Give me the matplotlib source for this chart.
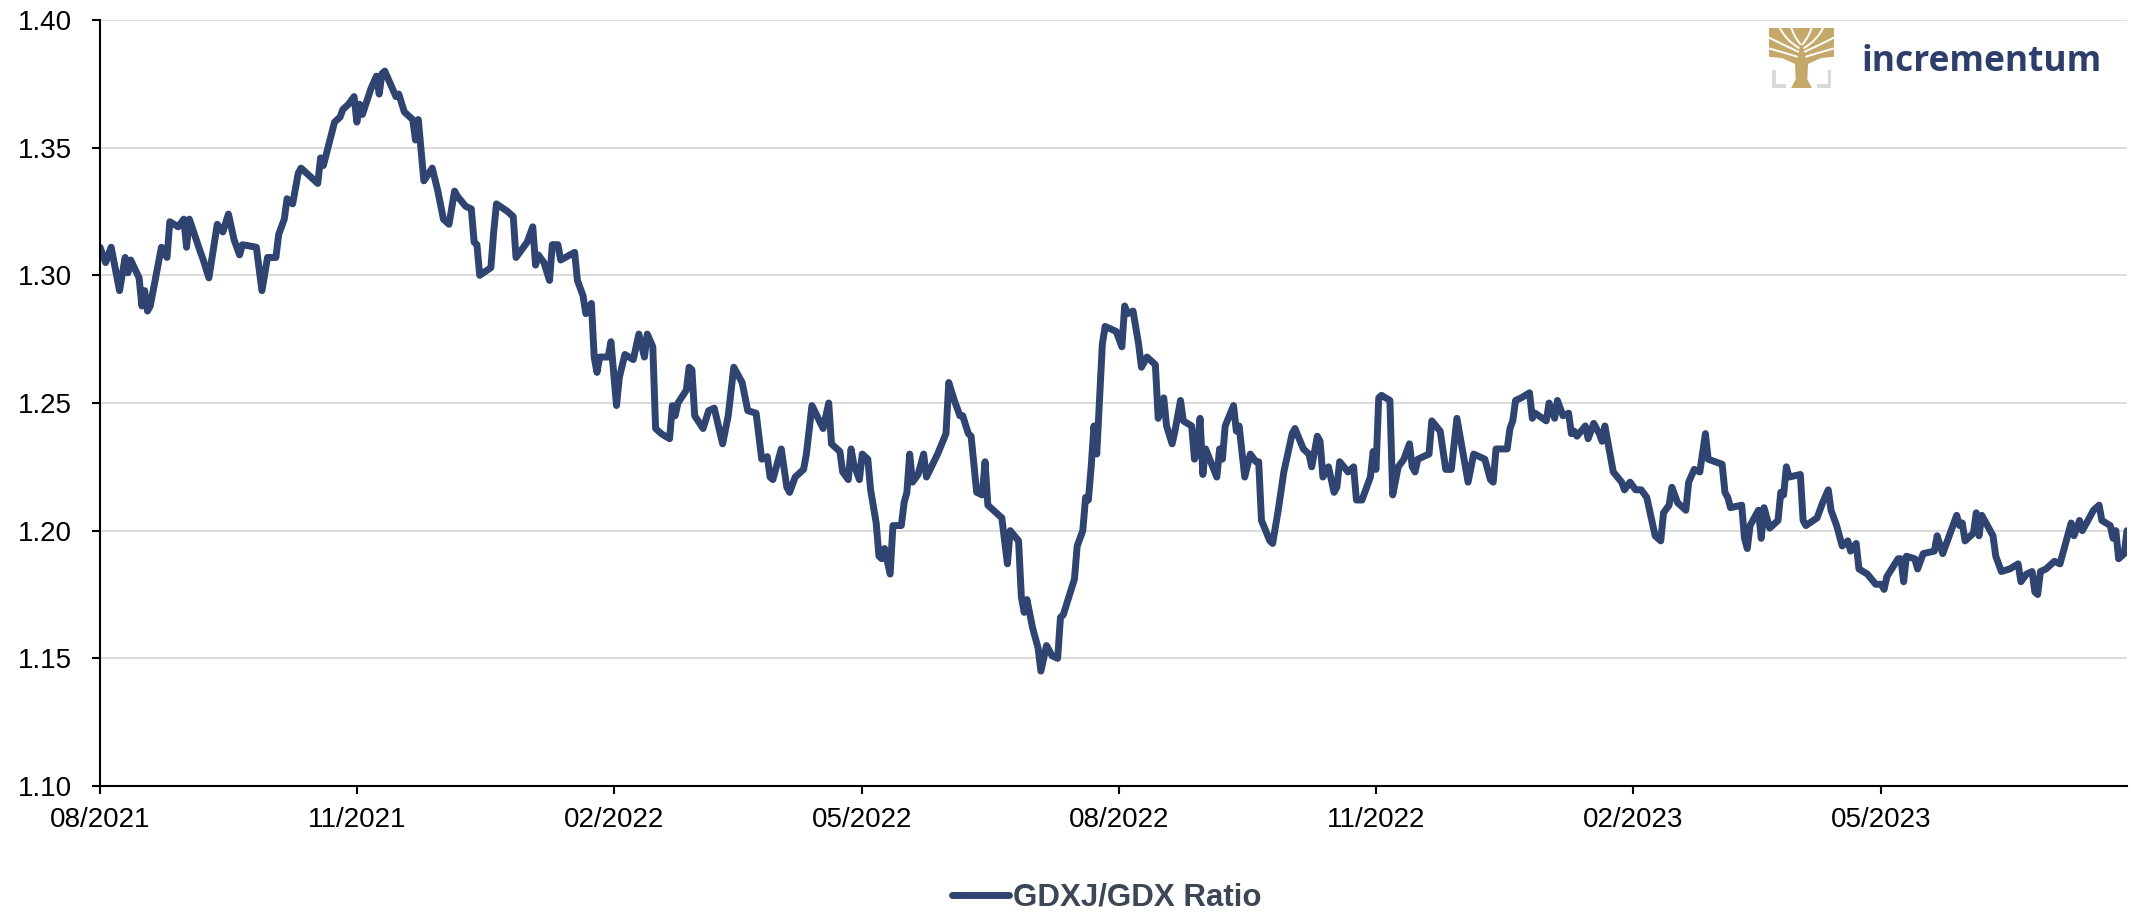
import pandas as pd
import numpy as np
import matplotlib
matplotlib.use("Agg")
import matplotlib.pyplot as plt
import matplotlib.dates as mdates
from matplotlib.path import Path
from matplotlib.patches import PathPatch, Polygon, Rectangle

plt.rcParams['font.family'] = ['Liberation Sans', 'DejaVu Sans']

# GDXJ/GDX ratio (days counted from 2021-08-01)
start_date = pd.Timestamp("2021-08-01")
day_offset = [
    0, 2, 4, 7, 9, 10, 11, 14, 15, 16, 17, 18, 22, 24, 25, 28, 30, 31, 32, 36,
    37, 39, 42, 44, 46, 48, 50, 51, 56, 58, 60, 63, 64, 66, 67, 69, 71, 72, 74, 78,
    79, 80, 84, 86, 87, 89, 91, 92, 93, 94, 97, 99, 100, 101, 102, 106, 107, 109, 112, 113,
    114, 116, 119, 121, 123, 125, 127, 128,
    131, 133, 134, 135, 136, 140, 141, 142, 146, 148, 149, 153, 155, 156, 157, 159, 161, 162, 164, 165,
    170, 171, 173, 174, 176, 177, 178, 179, 182, 183, 185, 186, 188, 191, 193, 195, 196, 198, 199, 201,
    204, 205, 206, 207, 210, 211, 212, 213, 216, 218, 220, 223, 225, 227, 228, 230, 232, 235, 237, 239,
    240, 241, 244, 246, 247, 249, 252, 253, 255, 259, 261, 262, 265,
    266, 268, 269, 270, 272, 273, 275, 276, 278, 279, 280, 281, 283, 284, 287, 288, 289, 290, 291, 293,
    295, 296, 300, 303, 304, 306, 308, 309, 311, 312, 314, 316, 317, 318, 320, 323, 325, 326, 329, 330,
    331, 332, 334, 336, 337, 339, 341, 343, 344, 345, 347, 349, 350, 352, 353, 354, 355, 356, 357, 359,
    360, 364, 366, 367, 368, 370, 372, 373, 375, 378, 379, 381, 382, 384, 385, 387, 388, 391, 392, 393,
    394, 395, 396,
    400, 401, 402, 403, 406, 407, 408, 410, 412, 414, 415, 416, 419, 420, 422, 424, 427, 428, 431, 433,
    434, 436, 437, 438, 440, 442, 443, 444, 447, 449, 450, 452, 455, 456, 457, 458, 459, 462, 463, 465,
    467, 469, 470, 471, 472, 476, 477, 480, 482, 484, 486, 490, 492, 496, 498, 499, 500, 504, 505, 506,
    507, 509, 512, 513, 514, 518, 519, 521, 522, 524, 526, 527, 528, 529, 532, 533, 535,
    537, 538, 539, 542, 545, 546, 548, 550, 552, 554, 556, 557, 559, 560, 562, 563, 565, 568, 569, 571,
    573, 575, 576, 581, 582, 583, 584, 588, 589, 590, 591, 594, 595, 596, 598, 601, 602, 603, 604, 605,
    609, 610, 611, 615, 617, 619, 620, 622, 624, 626, 627, 629, 630, 633, 636, 638,
    639, 640, 644, 645, 646, 647, 650, 651, 653, 657, 658, 660, 665, 666, 667, 668, 671, 672, 673, 674,
    676, 678, 679, 681, 684, 687, 688, 690, 692, 693, 694, 695, 697, 700, 702, 704, 706, 707, 709, 710,
    714, 716, 717, 720, 721, 722, 723, 725, 726,
]
ratio = [
    1.311, 1.305, 1.311, 1.294, 1.307, 1.301, 1.306, 1.299, 1.288, 1.294, 1.286, 1.288, 1.311, 1.307, 1.321, 1.319, 1.322, 1.311, 1.322, 1.309,
    1.306, 1.299, 1.320, 1.317, 1.324, 1.314, 1.308, 1.312, 1.311, 1.294, 1.307, 1.307, 1.316, 1.322, 1.330, 1.328, 1.340, 1.342, 1.340, 1.336,
    1.346, 1.343, 1.360, 1.362, 1.365, 1.367, 1.370, 1.360, 1.367, 1.363, 1.373, 1.378, 1.371, 1.379, 1.380, 1.370, 1.371, 1.364, 1.361, 1.353,
    1.361, 1.337, 1.342, 1.333, 1.322, 1.320, 1.333, 1.331,
    1.327, 1.326, 1.313, 1.312, 1.300, 1.303, 1.317, 1.328, 1.325, 1.323, 1.307, 1.313, 1.319, 1.304, 1.308, 1.305, 1.298, 1.312, 1.312, 1.306,
    1.309, 1.298, 1.292, 1.285, 1.289, 1.268, 1.262, 1.268, 1.268, 1.274, 1.249, 1.260, 1.269, 1.267, 1.277, 1.268, 1.277, 1.272, 1.240, 1.238,
    1.236, 1.249, 1.245, 1.250, 1.255, 1.264, 1.263, 1.245, 1.240, 1.247, 1.248, 1.234, 1.245, 1.264, 1.262, 1.258, 1.247, 1.246, 1.228, 1.229,
    1.221, 1.220, 1.232, 1.217, 1.215, 1.221, 1.224, 1.230, 1.249, 1.240, 1.250, 1.234, 1.231,
    1.223, 1.220, 1.232, 1.226, 1.220, 1.230, 1.228, 1.216, 1.203, 1.190, 1.189, 1.193, 1.183, 1.202, 1.202, 1.211, 1.215, 1.230, 1.219, 1.222,
    1.230, 1.221, 1.230, 1.238, 1.258, 1.251, 1.245, 1.245, 1.238, 1.237, 1.215, 1.214, 1.227, 1.210, 1.208, 1.205, 1.187, 1.200, 1.196, 1.174,
    1.168, 1.173, 1.162, 1.154, 1.145, 1.155, 1.151, 1.150, 1.166, 1.167, 1.174, 1.181, 1.194, 1.200, 1.213, 1.212, 1.225, 1.241, 1.230, 1.273,
    1.280, 1.278, 1.272, 1.288, 1.285, 1.286, 1.273, 1.264, 1.268, 1.265, 1.244, 1.252, 1.241, 1.234, 1.239, 1.251, 1.243, 1.241, 1.228, 1.231,
    1.244, 1.222, 1.232,
    1.221, 1.232, 1.228, 1.241, 1.249, 1.239, 1.241, 1.221, 1.230, 1.227, 1.227, 1.204, 1.196, 1.195, 1.208, 1.223, 1.238, 1.240, 1.232, 1.230,
    1.225, 1.237, 1.235, 1.221, 1.225, 1.215, 1.217, 1.227, 1.223, 1.225, 1.212, 1.212, 1.221, 1.231, 1.224, 1.252, 1.253, 1.251, 1.214, 1.225,
    1.228, 1.234, 1.225, 1.223, 1.228, 1.230, 1.243, 1.239, 1.224, 1.224, 1.244, 1.219, 1.230, 1.228, 1.220, 1.219, 1.232, 1.232, 1.240, 1.243,
    1.251, 1.252, 1.254, 1.244, 1.246, 1.243, 1.250, 1.244, 1.251, 1.245, 1.246, 1.238, 1.239, 1.237, 1.241, 1.236, 1.242,
    1.238, 1.235, 1.241, 1.223, 1.219, 1.216, 1.219, 1.216, 1.216, 1.213, 1.203, 1.198, 1.196, 1.207, 1.210, 1.217, 1.211, 1.208, 1.219, 1.224,
    1.223, 1.238, 1.228, 1.226, 1.215, 1.213, 1.209, 1.210, 1.197, 1.193, 1.202, 1.208, 1.197, 1.209, 1.201, 1.204, 1.215, 1.214, 1.225, 1.221,
    1.222, 1.204, 1.202, 1.205, 1.211, 1.216, 1.208, 1.202, 1.194, 1.196, 1.192, 1.195, 1.185, 1.183, 1.179, 1.179,
    1.177, 1.182, 1.189, 1.189, 1.180, 1.190, 1.189, 1.185, 1.191, 1.192, 1.198, 1.191, 1.206, 1.202, 1.203, 1.196, 1.199, 1.207, 1.198, 1.206,
    1.202, 1.198, 1.190, 1.184, 1.185, 1.187, 1.180, 1.183, 1.184, 1.176, 1.175, 1.184, 1.185, 1.188, 1.187, 1.195, 1.203, 1.198, 1.204, 1.200,
    1.208, 1.210, 1.204, 1.202, 1.197, 1.200, 1.189, 1.191, 1.200,
]
y_ticks = [1.10, 1.15, 1.20, 1.25, 1.30, 1.35, 1.40]
series_label = "GDXJ/GDX Ratio"

dates = start_date + pd.to_timedelta(day_offset, unit="D")

W, H = 2131, 916
fig = plt.figure(figsize=(W / 100, H / 100), dpi=100)
ax = fig.add_axes([100 / W, 1 - 786 / H, 2027 / W, 766 / H])

ax.plot(dates, ratio, color="#2F4470", lw=5.0, solid_joinstyle="round",
        solid_capstyle="round", label=series_label)

ax.set_ylim(1.10, 1.40)
ax.set_yticks(y_ticks)
ax.yaxis.set_major_formatter(matplotlib.ticker.FormatStrFormatter("%.2f"))
ax.set_xlim(start_date, dates[-1])
ax.xaxis.set_major_locator(mdates.MonthLocator(bymonth=[2, 5, 8, 11]))
ax.xaxis.set_major_formatter(mdates.DateFormatter("%m/%Y"))

ax.yaxis.grid(True, color="#d9d9d9", lw=1.3)
ax.set_axisbelow(True)
for side in ["top", "right"]:
    ax.spines[side].set_visible(False)
for side in ["left", "bottom"]:
    ax.spines[side].set_linewidth(1.5)
    ax.spines[side].set_color("black")
ax.tick_params(axis="both", direction="out", length=6, width=1.5, labelsize=20)
ax.tick_params(axis="y", pad=14)
ax.tick_params(axis="x", pad=9)

fig.legend(loc="center", bbox_to_anchor=(1107 / W, 1 - 898 / H), frameon=False,
           prop={"weight": "bold", "size": 22.5}, handlelength=1.8,
           handletextpad=0.15, labelcolor="#3b4656")

# incrementum logo: gold tree over grey corner brackets
gold = "#C5A96A"
logo = fig.add_axes([1769 / W, 1 - 88 / H, 65 / W, 60 / H])
logo.set_xlim(0, 1)
logo.set_ylim(0, 1)
logo.axis("off")
grey = "#d9d9d9"
logo.add_patch(Rectangle((0.04, 0.0), 0.06, 0.30, color=grey, lw=0))
logo.add_patch(Rectangle((0.04, 0.0), 0.22, 0.07, color=grey, lw=0))
logo.add_patch(Rectangle((0.90, 0.0), 0.06, 0.30, color=grey, lw=0))
logo.add_patch(Rectangle((0.74, 0.0), 0.22, 0.07, color=grey, lw=0))
crown = [(0.0, 0.52), (0.0, 1.0), (1.0, 1.0), (1.0, 0.52), (0.80, 0.50),
         (0.60, 0.40), (0.59, 0.14), (0.66, 0.0), (0.34, 0.0), (0.41, 0.14),
         (0.40, 0.40), (0.20, 0.50)]
logo.add_patch(Polygon(crown, closed=True, color=gold, lw=0))
gaps = [
    ((0.44, 0.52), (0.20, 0.60), (0.0, 0.66)),
    ((0.46, 0.60), (0.18, 0.74), (0.0, 0.84)),
    ((0.47, 0.66), (0.25, 0.80), (0.16, 1.02)),
    ((0.49, 0.72), (0.38, 0.86), (0.34, 1.02)),
    ((0.51, 0.72), (0.62, 0.86), (0.66, 1.02)),
    ((0.53, 0.66), (0.75, 0.80), (0.84, 1.02)),
    ((0.54, 0.60), (0.82, 0.74), (1.0, 0.84)),
    ((0.56, 0.52), (0.80, 0.60), (1.0, 0.66)),
]
for p0, p1, p2 in gaps:
    path = Path([p0, p1, p2], [Path.MOVETO, Path.CURVE3, Path.CURVE3])
    logo.add_patch(PathPatch(path, fill=False, edgecolor="white", lw=1.4, capstyle="butt"))

fig.text(1862 / W, 1 - 62 / H, "incrementum", family=["Open Sans", "DejaVu Sans"],
         fontsize=25.5, fontweight="bold", color="#2d3e6b", ha="left", va="center")

fig.savefig("out.png", dpi=100)
